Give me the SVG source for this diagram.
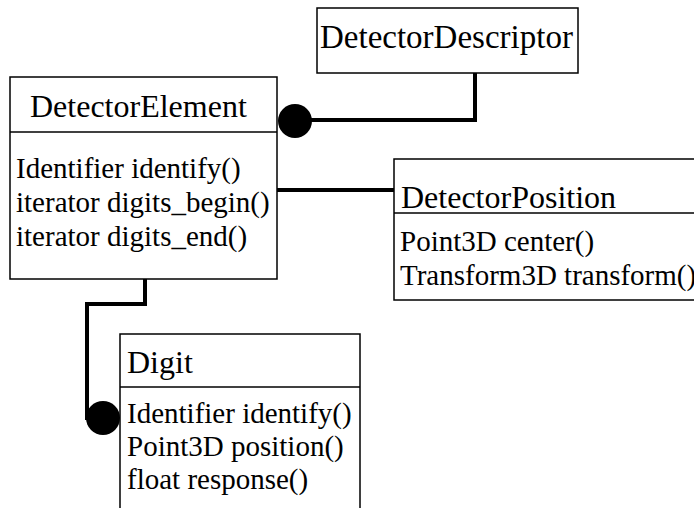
<svg xmlns="http://www.w3.org/2000/svg" width="694" height="508" viewBox="0 0 694 508">
<style>
.box{fill:#fff;stroke:#000;stroke-width:1.5}
.div{stroke:#000;stroke-width:1.5}
.t{font-family:"Liberation Serif","Times New Roman",serif;font-size:32px;fill:#000}
.m{font-family:"Liberation Serif","Times New Roman",serif;font-size:29px;fill:#000}
.c{fill:none;stroke:#000;stroke-width:4}
.dot{fill:#000}
</style>
<rect width="694" height="508" fill="#fff"/>
<g id="connectors">
<polyline class="c" points="475,73 475,120 295,120"/>
<circle class="dot" cx="295" cy="121" r="17"/>
<line class="c" x1="277" y1="190" x2="394" y2="190"/>
<polyline class="c" points="145,279 145,304 87,304 87,420"/>
<circle class="dot" cx="103" cy="418" r="17"/>
</g>
<g id="DetectorDescriptor">
<rect class="box" x="317" y="8" width="261" height="65"/>
<text class="t" x="320" y="48" style="font-size:33px">DetectorDescriptor</text>
</g>
<g id="DetectorElement">
<rect class="box" x="10" y="77" width="267" height="202"/>
<line class="div" x1="10" y1="132" x2="277" y2="132"/>
<text class="t" x="30" y="117">DetectorElement</text>
<text class="m" x="16" y="178">Identifier identify()</text>
<text class="m" x="16" y="212">iterator digits_begin()</text>
<text class="m" x="16" y="246">iterator digits_end()</text>
</g>
<g id="DetectorPosition">
<rect class="box" x="394" y="159" width="320" height="141"/>
<line class="div" x1="394" y1="213" x2="694" y2="213"/>
<text class="t" x="401" y="208">DetectorPosition</text>
<text class="m" x="400" y="251">Point3D center()</text>
<text class="m" x="400" y="285">Transform3D transform()</text>
</g>
<g id="Digit">
<rect class="box" x="120" y="334" width="240" height="190"/>
<line class="div" x1="120" y1="387" x2="360" y2="387"/>
<text class="t" x="127" y="373">Digit</text>
<text class="m" x="127" y="423">Identifier identify()</text>
<text class="m" x="127" y="456">Point3D position()</text>
<text class="m" x="127" y="489">float response()</text>
</g>
</svg>
